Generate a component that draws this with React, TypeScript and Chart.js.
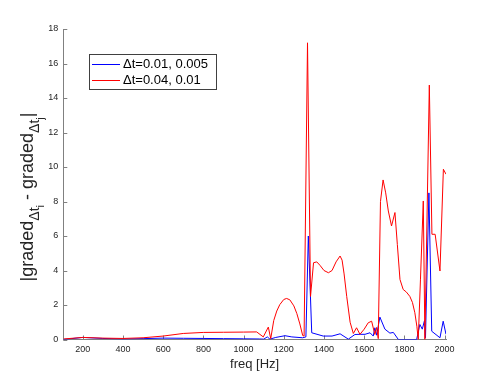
import { useEffect, useRef } from "react";
import { Chart, registerables } from "chart.js";

Chart.register(...registerables);

// ---- data ----
const xTickValues = [200, 400, 600, 800, 1000, 1200, 1400, 1600, 1800, 2000];
const yTickValues = [0, 2, 4, 6, 8, 10, 12, 14, 16, 18];

const seriesLabels = ["\u0394t=0.01, 0.005", "\u0394t=0.04, 0.01"];

const blueFreq = [
  104, 200, 300, 400, 500, 600, 700, 800, 900, 1000, 1080, 1100, 1118, 1131, 1160,
  1206, 1240, 1294, 1310, 1322, 1339, 1396, 1440, 1480, 1521, 1554, 1580, 1604,
  1629, 1645, 1653, 1662, 1678, 1703, 1728, 1745, 1770, 1861, 1877, 1889, 1900,
  1905, 1922, 1936, 1977, 1993, 2007,
];
const blueVals = [
  0.0, 0.12, 0.06, 0.03, 0.05, 0.08, 0.07, 0.06, 0.05, 0.04, 0.03, 0.02, 0.15, 0.02, 0.12,
  0.22, 0.15, 0.1, 0.15, 6.0, 0.39, 0.2, 0.2, 0.33, 0.02, 0.29, 0.3, 0.3,
  0.39, 0.2, 0.68, 0.25, 1.3, 0.6, 0.37, 0.41, 0.0, 0.0, 0.87, 0.6, 1.1,
  0.1, 8.5, 0.48, 0.1, 1.06, 0.3,
];

const redFreq = [
  104, 200, 300, 400, 500, 600, 700, 800, 900, 1000, 1065, 1098, 1123, 1135, 1150,
  1165, 1180, 1200, 1214, 1230, 1250, 1265, 1280, 1294, 1301, 1318, 1333, 1348,
  1364, 1380, 1400, 1422, 1440, 1460, 1480, 1490, 1500, 1513, 1530, 1546, 1562,
  1579, 1600, 1620, 1637, 1653, 1662, 1670, 1681, 1694, 1707, 1720, 1736, 1753,
  1765, 1778, 1794, 1810, 1827, 1840, 1852, 1862, 1869, 1880, 1894, 1902, 1924,
  1937, 1953, 1977, 1994, 2007,
];
const redVals = [
  0.03, 0.12, 0.08, 0.06, 0.1, 0.2, 0.35, 0.41, 0.42, 0.43, 0.44, 0.15, 0.72, 0.05, 1.1,
  1.65, 2.02, 2.32, 2.38, 2.3, 1.95, 1.5, 0.9, 0.23, 0.2, 17.2, 2.5, 4.45,
  4.5, 4.3, 4.0, 3.87, 4.0, 4.5, 4.84, 4.6, 3.8, 2.5, 1.0, 0.35, 0.68,
  0.3, 0.6, 0.97, 1.06, 0.29, 0.7, 0.05, 8.0, 9.25, 8.5, 7.45, 6.58, 7.36,
  5.5, 3.48, 2.9, 2.75, 2.5, 2.15, 1.55, 0.77, 0.0, 3.5, 8.03, 0.0, 14.75,
  6.1, 6.1, 3.97, 9.87, 9.58,
];

const FONT = "'Liberation Sans', Arial, sans-serif";

const decorPlugin = {
  id: "decor",
  beforeDatasetsDraw(chart: any) {
    const { ctx, chartArea, scales } = chart;
    ctx.save();
    ctx.strokeStyle = "#808080";
    ctx.lineWidth = 1;
    ctx.beginPath();
    for (const v of xTickValues) {
      const px = Math.round(scales.x.getPixelForValue(v)) + 0.5;
      ctx.moveTo(px, chartArea.bottom);
      ctx.lineTo(px, chartArea.bottom - 4);
    }
    for (const v of yTickValues) {
      const py = Math.round(scales.y.getPixelForValue(v)) + 0.5;
      ctx.moveTo(chartArea.left, py);
      ctx.lineTo(chartArea.left + 4, py);
    }
    ctx.stroke();
    ctx.restore();
  },
  afterDraw(chart: any) {
    const { ctx, chartArea } = chart;
    ctx.save();
    // x title
    ctx.fillStyle = "#262626";
    ctx.font = `13px ${FONT}`;
    ctx.textAlign = "center";
    ctx.textBaseline = "middle";
    ctx.fillText("freq [Hz]", (chartArea.left + chartArea.right) / 2, 364);

    // y title with subscripts
    const segs = [
      { t: "|graded", s: 18, dy: 0 },
      { t: "\u0394t", s: 14, dy: 6 },
      { t: "i", s: 11, dy: 11 },
      { t: " - graded", s: 18, dy: 0 },
      { t: "\u0394t", s: 14, dy: 6 },
      { t: "j", s: 11, dy: 11 },
      { t: "|", s: 18, dy: 0 },
    ];
    let total = 0;
    const widths: number[] = [];
    for (const g of segs) {
      ctx.font = `${g.s}px ${FONT}`;
      const w = ctx.measureText(g.t).width;
      widths.push(w);
      total += w;
    }
    ctx.translate(33, 197);
    ctx.rotate(-Math.PI / 2);
    ctx.textAlign = "left";
    ctx.textBaseline = "alphabetic";
    let x = -total / 2;
    segs.forEach((g, i) => {
      ctx.font = `${g.s}px ${FONT}`;
      ctx.fillText(g.t, x, g.dy);
      x += widths[i];
    });
    ctx.restore();

    // legend
    ctx.save();
    const bx = 89.5, by = 54.5, bw = 127, bh = 35;
    ctx.fillStyle = "#ffffff";
    ctx.fillRect(bx, by, bw, bh);
    ctx.strokeStyle = "#404040";
    ctx.lineWidth = 1;
    ctx.strokeRect(bx, by, bw, bh);
    ctx.font = `13px ${FONT}`;
    ctx.textAlign = "left";
    ctx.textBaseline = "middle";
    chart.data.datasets.forEach((ds: any, i: number) => {
      const yy = 64.5 + i * 16;
      ctx.strokeStyle = ds.borderColor;
      ctx.beginPath();
      ctx.moveTo(92, yy);
      ctx.lineTo(120, yy);
      ctx.stroke();
      ctx.fillStyle = "#000000";
      ctx.fillText(ds.label, 123, yy);
    });
    ctx.restore();
  },
};

export default function App() {
  const ref = useRef<HTMLCanvasElement>(null);
  useEffect(() => {
    const chart = new Chart(ref.current!, {
      type: "line",
      data: {
        datasets: [
          {
            label: seriesLabels[0],
            data: blueFreq.map((x, i) => ({ x, y: blueVals[i] })),
            borderColor: "#0000ff",
            borderWidth: 1,
            pointRadius: 0,
            tension: 0,
            order: 1,
          },
          {
            label: seriesLabels[1],
            data: redFreq.map((x, i) => ({ x, y: redVals[i] })),
            borderColor: "#ff0000",
            borderWidth: 1,
            pointRadius: 0,
            tension: 0,
            order: 0,
          },
        ],
      },
      options: {
        responsive: false,
        animation: false,
        devicePixelRatio: 1,
        layout: { padding: { left: 0, right: 47, top: 29, bottom: 0 } },
        plugins: { legend: { display: false }, tooltip: { enabled: false } },
        scales: {
          x: {
            type: "linear",
            min: 103,
            max: 2007,
            afterBuildTicks: (s: any) => {
              s.ticks = xTickValues.map((v) => ({ value: v }));
            },
            afterFit: (s: any) => {
              s.height = 42.5;
            },
            grid: { drawOnChartArea: false, drawTicks: false },
            border: { color: "#808080" },
            ticks: {
              font: { family: FONT, size: 9 },
              color: "#262626",
              padding: 5,
              maxRotation: 0,
              autoSkip: false,
              callback: (v: any) => String(v),
            },
          },
          y: {
            type: "linear",
            min: 0,
            max: 18,
            afterBuildTicks: (s: any) => {
              s.ticks = yTickValues.map((v) => ({ value: v }));
            },
            afterFit: (s: any) => {
              s.width = 63.3;
            },
            grid: { drawOnChartArea: false, drawTicks: false },
            border: { color: "#808080" },
            ticks: {
              font: { family: FONT, size: 9 },
              color: "#262626",
              padding: 5,
              autoSkip: false,
              callback: (v: any) => String(v),
            },
          },
        },
      },
      plugins: [decorPlugin],
    });
    return () => chart.destroy();
  }, []);
  return (
    <div style={{ position: "absolute", left: 0, top: 0, width: 493, height: 382 }}>
      <canvas ref={ref} width={493} height={382} style={{ display: "block" }} />
    </div>
  );
}
